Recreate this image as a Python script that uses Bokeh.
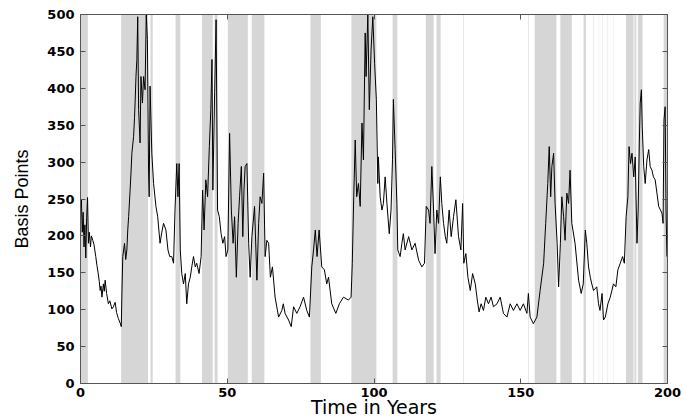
from bokeh.plotting import figure
from bokeh.models import LinearAxis, Range1d, FixedTicker
from bokeh.embed import file_html
from bokeh.resources import INLINE

# Time axis (years) and spread (basis points)
years = [
    0, 0.3, 0.6, 0.9, 1.2, 1.5, 1.8, 2.1, 2.4, 2.7,
    3.0, 3.4, 3.7, 4.2, 4.6, 5.2, 5.6, 6.0, 6.4, 6.7,
    7.0, 7.3, 7.8, 8.1, 8.4, 8.9, 9.5, 10.0, 10.7, 11.2,
    11.8, 12.3, 12.9, 13.5, 13.9, 14.1, 14.4, 15.0, 15.4, 15.8,
    16.1, 16.4, 16.9, 17.2, 17.5, 18.1, 18.4, 18.6, 18.9, 19.2,
    19.5, 19.8, 20.3, 20.6, 21.1, 21.5, 22.0, 22.4, 22.8, 23.2,
    23.4, 23.7, 24.3, 24.9, 25.7, 26.3, 27.1, 27.7, 28.3, 29.1,
    29.8, 30.4, 31.1, 31.7, 32.2, 32.8, 33.2, 33.6, 34.0, 34.5,
    35.1, 35.7, 36.2, 36.8, 37.4, 38.0, 38.5, 39.1, 39.6, 40.4,
    41.1, 41.6, 42.1, 42.7, 43.3, 43.9, 44.4, 44.8, 45.1, 45.7,
    46.2, 46.7, 47.3, 47.9, 48.5, 49.1, 49.6, 50.2, 50.8, 51.4,
    52.0, 52.5, 53.1, 53.7, 54.2, 54.8, 55.3, 55.7, 56.1, 56.7,
    57.3, 57.8, 58.4, 59.3, 60.1, 60.7, 61.2, 61.8, 62.4, 62.9,
    63.5, 64.1, 64.7, 65.4, 66.3, 67.5, 68.6, 69.1, 69.7, 70.9,
    71.8, 72.6, 73.7, 74.8, 76.0, 77.1, 78.0, 78.8, 79.4, 80.0,
    80.6, 81.3, 82.2, 83.1, 83.9, 84.5, 85.6, 87.0, 88.2, 89.6,
    91.3, 92.2, 92.6, 93.1, 93.6, 94.1, 94.7, 95.3, 95.9, 96.4,
    97.0, 97.3, 97.9, 98.4, 99.0, 99.6, 100.2, 100.8, 101.3, 101.5,
    102.1, 102.7, 103.2, 103.8, 104.4, 105.2, 105.8, 106.3, 106.6, 107.2,
    107.8, 108.1, 108.9, 109.5, 110.0, 110.6, 111.8, 112.9, 114.0, 115.2,
    116.3, 117.2, 117.8, 118.6, 119.1, 119.7, 120.3, 120.8, 121.4, 122.0,
    122.6, 123.1, 123.7, 124.3, 124.8, 125.6, 126.3, 127.1, 127.9, 128.8,
    129.6, 130.2, 130.6, 131.3, 132.0, 132.8, 133.6, 134.5, 135.2, 135.8,
    136.5, 137.3, 138.1, 139.0, 139.9, 140.7, 141.9, 143.0, 144.1, 145.3,
    146.4, 147.5, 148.7, 149.8, 150.9, 152.1, 152.6, 153.2, 154.3, 155.5,
    156.6, 157.8, 158.5, 159.2, 159.7, 160.2, 160.6, 161.2, 161.7, 162.4,
    162.9, 163.5, 164.0, 164.6, 165.1, 165.7, 166.3, 166.8, 167.4, 168.5,
    169.7, 170.6, 171.3, 172.0, 172.5, 173.1, 173.7, 174.2, 174.8, 175.9,
    176.5, 177.0, 177.7, 178.2, 178.8, 179.7, 180.5, 181.6, 182.4, 183.1,
    183.9, 184.7, 185.3, 185.9, 186.5, 186.9, 187.4, 187.9, 188.5, 189.0,
    189.6, 190.0, 190.4, 190.7, 191.1, 191.4, 191.9, 192.4, 193.0, 193.6,
    194.1, 194.7, 195.2, 195.8, 196.4, 197.0, 197.6, 198.1, 198.5, 198.8,
    199.2, 199.5, 199.8,
]
spread_bp = [
    240, 250, 205, 232, 185, 215, 170, 225, 252, 190,
    205, 185, 200, 194, 188, 172, 160, 150, 138, 126,
    132, 117, 135, 125, 140, 122, 108, 112, 101, 104,
    110, 96, 88, 82, 77, 120, 172, 190, 168, 181,
    208, 226, 262, 285, 312, 335, 360, 380, 416, 439,
    497, 371, 326, 416, 380, 416, 398, 500, 466, 285,
    253, 403, 312, 271, 240, 226, 190, 205, 217, 208,
    181, 172, 172, 163, 235, 298, 253, 298, 181, 149,
    135, 149, 108, 135, 144, 160, 172, 158, 163, 149,
    172, 262, 208, 276, 253, 321, 371, 439, 262, 394,
    493, 235, 226, 203, 190, 199, 172, 181, 339, 235,
    190, 226, 144, 217, 253, 294, 199, 262, 294, 298,
    190, 144, 199, 240, 140, 217, 253, 244, 285, 172,
    194, 190, 144, 158, 117, 90, 99, 108, 95, 86,
    77, 104, 95, 104, 117, 99, 90, 158, 181, 208,
    172, 208, 158, 154, 135, 144, 108, 95, 108, 117,
    113, 117, 163, 253, 330, 253, 271, 240, 353, 303,
    475, 416, 500, 371, 452, 497, 434, 385, 271, 307,
    253, 235, 244, 280, 244, 203, 235, 303, 385, 317,
    244, 181, 172, 190, 203, 181, 199, 181, 190, 167,
    158, 163, 240, 235, 217, 294, 235, 176, 235, 217,
    280, 244, 217, 199, 190, 235, 199, 226, 249, 199,
    181, 244, 163, 176, 144, 126, 149, 135, 113, 97,
    108, 99, 117, 108, 117, 104, 108, 117, 95, 90,
    108, 99, 108, 99, 108, 95, 122, 90, 81, 90,
    126, 163, 217, 271, 321, 253, 294, 312, 244, 190,
    131, 190, 253, 226, 194, 258, 244, 289, 217, 190,
    140, 122, 135, 208, 190, 158, 144, 135, 126, 131,
    108, 99, 122, 86, 90, 108, 117, 135, 131, 154,
    163, 172, 163, 226, 253, 321, 298, 312, 280, 307,
    190, 235, 326, 380, 398, 348, 294, 271, 303, 317,
    294, 289, 280, 276, 258, 240, 235, 231, 217, 357,
    375, 235, 172,
]

# Shaded periods (start / end, in years)
shade_start = [0, 13.85, 23.85, 32.4, 41.4, 45.7, 50.2, 58.35, 78.35, 92.3,
               106.35, 117.65, 121.3, 130.4, 152.6, 154.75, 163.5, 171.4,
               174.8, 176.6, 177.7, 179.6, 181.6, 185.85, 188.75, 189.9, 198.7]
shade_end = [2.5, 23.0, 24.6, 34.0, 45.05, 46.7, 57.0, 62.65, 81.9, 100.8,
             107.95, 120.35, 122.7, 130.6, 152.8, 162.15, 167.4, 172.2,
             174.95, 176.7, 177.85, 179.75, 181.7, 188.45, 189.35, 191.5, 199.9]

x_ticks = [0, 50, 100, 150, 200]
y_ticks = [0, 50, 100, 150, 200, 250, 300, 350, 400, 450, 500]

p = figure(width=683, height=420, output_backend="svg", toolbar_location=None,
           x_range=Range1d(0, 200), y_range=Range1d(0, 500),
           min_border_left=80, min_border_right=16, min_border_top=14,
           min_border_bottom=37,
           x_axis_label="Time in Years", y_axis_label="Basis Points")
p.outline_line_color = None
p.grid.visible = False
p.background_fill_color = "white"

p.quad(left=shade_start, right=shade_end, bottom=0, top=500,
       fill_color="#d6d6d6", line_color=None)
p.line(years, spread_bp, line_color="black", line_width=1.0)

right_ax = LinearAxis(ticker=FixedTicker(ticks=y_ticks),
                      major_label_overrides={t: "" for t in y_ticks})
top_ax = LinearAxis(ticker=FixedTicker(ticks=x_ticks),
                    major_label_overrides={t: "" for t in x_ticks})
p.add_layout(right_ax, "right")
p.add_layout(top_ax, "above")

bottom_ax = p.below[0]
left_ax = p.left[0]
bottom_ax.ticker = FixedTicker(ticks=x_ticks)
left_ax.ticker = FixedTicker(ticks=y_ticks)

for ax in [bottom_ax, left_ax, right_ax, top_ax]:
    ax.axis_line_color = "#555555"
    ax.major_tick_line_color = "#555555"
    ax.major_tick_in = 5
    ax.major_tick_out = 0
    ax.minor_tick_in = 0
    ax.minor_tick_out = 0
    ax.major_label_text_font = "DejaVu Sans"
    ax.major_label_text_font_style = "bold"
    ax.major_label_text_font_size = "13px"
    ax.major_label_text_color = "black"

left_ax.major_label_standoff = 6
bottom_ax.major_label_standoff = 4
right_ax.major_label_standoff = 0
top_ax.major_label_standoff = 0

bottom_ax.axis_label_text_font = "DejaVu Sans"
bottom_ax.axis_label_text_font_style = "normal"
bottom_ax.axis_label_text_font_size = "19px"
bottom_ax.axis_label_standoff = -4
bottom_ax.axis_label_text_color = "black"

left_ax.axis_label_text_font = "Liberation Sans"
left_ax.axis_label_text_font_style = "normal"
left_ax.axis_label_text_font_size = "18px"
left_ax.axis_label_standoff = 12
left_ax.axis_label_text_color = "black"

open("out.html", "w").write(file_html(p, INLINE))
